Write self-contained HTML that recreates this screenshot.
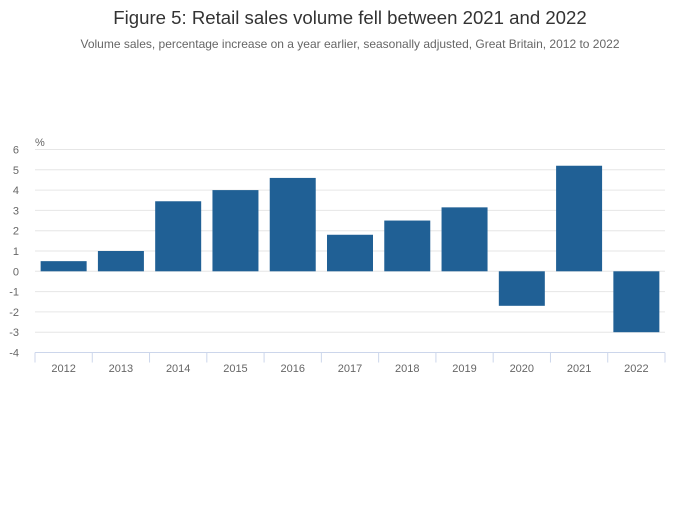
<!DOCTYPE html>
<html><head><meta charset="utf-8"><style>
body{margin:0;background:#fff;font-family:"Liberation Sans",sans-serif}
svg text{font-family:"Liberation Sans",sans-serif}
</style></head><body>
<svg width="700" height="502" id="c">
<text x="350" y="24" text-anchor="middle" font-size="18.6" fill="#333">Figure 5: Retail sales volume fell between 2021 and 2022</text>
<text x="350" y="48" text-anchor="middle" font-size="12" fill="#666">Volume sales, percentage increase on a year earlier, seasonally adjusted, Great Britain, 2012 to 2022</text>
<text x="35" y="146" font-size="11" fill="#666">%</text>
<g id="grid"></g><g id="bars"></g><g id="xaxis"></g>
</svg>
<script>
const categories=["2012","2013","2014","2015","2016","2017","2018","2019","2020","2021","2022"];
const values=[0.5,1.0,3.45,4.0,4.6,1.8,2.5,3.15,-1.7,5.2,-3.0];
const yTicks=[6,5,4,3,2,1,0,-1,-2,-3,-4];
const NS="http://www.w3.org/2000/svg";
const x0=35,x1=665,yMin=-4,yMax=6,yTop=149.5,yBot=352.5;
const y=v=>yTop+(yMax-v)/(yMax-yMin)*(yBot-yTop);
const bw=(x1-x0)/categories.length;
const xc=i=>x0+bw*(i+0.5);
function mk(t,a,p){const e=document.createElementNS(NS,t);for(const k in a)e.setAttribute(k,a[k]);p.appendChild(e);return e;}
const g=document.getElementById('grid'),b=document.getElementById('bars'),xa=document.getElementById('xaxis');
yTicks.forEach(v=>{
 if(v!==yMin){const l=mk('line',{x1:x0,x2:x1,y1:y(v),y2:y(v),stroke:'#e6e6e6'},g);
 
 }
 const t=mk('text',{x:19,y:y(v)+4,'text-anchor':'end','font-size':11,fill:'#666'},g);t.textContent=v;
 
 
});
values.forEach((v,i)=>{
 const r=mk('rect',{x:xc(i)-23,width:46,y:Math.min(y(v),y(0)),height:Math.abs(y(v)-y(0)),fill:'#206095'},b);
 
 
});
const al=mk('line',{x1:x0,x2:x1,y1:yBot,y2:yBot,stroke:'#ccd6eb'},xa);


for(let i=0;i<=categories.length;i++){
 const tk=mk('line',{x1:x0+bw*i,x2:x0+bw*i,y1:yBot,y2:yBot+10,stroke:'#ccd6eb'},xa);
 
 
}
categories.forEach((c,i)=>{
 const t=mk('text',{x:xc(i),y:372,'text-anchor':'middle','font-size':11,fill:'#666'},xa);t.textContent=c;
 
 
});
</script>
</body></html>
